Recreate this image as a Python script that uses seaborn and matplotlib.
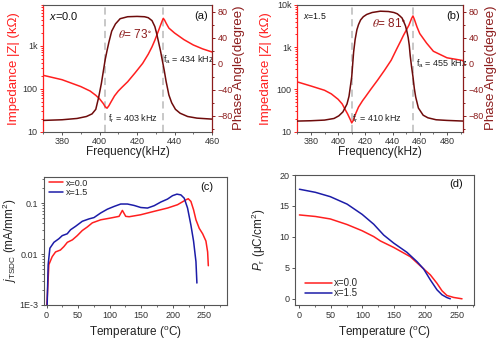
import matplotlib
matplotlib.use("Agg")
import matplotlib.pyplot as plt
from matplotlib import font_manager
from matplotlib.ticker import FixedLocator, MultipleLocator, LogLocator, NullFormatter, FuncFormatter
import seaborn as sns
import pandas as pd

# ---------------- data ----------------
# (a) x = 0.0 : impedance |Z| and phase angle vs frequency
imp_a_freq = [370, 380, 390, 395, 398, 400, 402, 403, 404, 405, 406, 408, 410, 412, 415, 419,
              423, 426, 428, 429.5, 431, 432.5, 433.5, 434, 434.7, 435.5, 437, 440, 445, 450,
              455, 460]
imp_a_z = [205, 162, 112, 88, 70, 58, 45, 38, 35, 40, 48, 68, 88, 108, 145, 235,
           390, 640, 950, 1350, 2000, 3000, 3900, 4400, 4000, 3400, 2600, 2000, 1400, 1050,
           850, 720]
phase_a_freq = [370, 380, 388, 393, 396, 398, 399.5, 401, 402, 403, 404, 405, 406.5, 408.5, 411,
                415, 420, 424, 426, 428, 429.5, 430.5, 431.5, 432.5, 433.5, 434.5, 435.5, 437,
                438.5, 440.5, 443, 447, 452, 460]
phase_a_deg = [-87, -86, -84, -81, -77, -70, -52, -30, -12, 6, 20, 33, 50, 61, 69,
               72, 72.5, 72, 70.5, 66, 57, 46, 33, 20, 5, -10, -27, -48,
               -60, -70, -76, -81, -83.5, -85]

# (b) x = 1.5
imp_b_freq = [370, 380, 390, 395, 400, 403, 405, 407, 409, 410, 411, 413, 415, 418, 420, 424,
              429, 434, 439, 443, 446, 448, 450, 452, 454, 455, 456, 458, 460, 465, 470, 480, 492]
imp_b_z = [150, 120, 95, 78, 58, 45, 34, 26, 19, 16, 18, 27, 38, 54, 66, 100,
           165, 280, 490, 900, 1400, 1900, 2500, 3300, 4800, 5500, 4600, 3000, 2100, 1250, 800, 560, 480]
phase_b_freq = [370, 380, 390, 397, 400.5, 403.5, 406.5, 408, 409, 410, 411.4, 412.5, 413.8, 415,
                416.5, 418.5, 421, 425, 431, 437, 441, 443.5, 445.5, 447, 448.5, 449.5, 450.5,
                451.5, 452.3, 453, 454, 455, 456, 457, 459, 462.5, 466, 472, 480, 492]
phase_b_deg = [-88, -87.5, -86.5, -84, -80, -74, -62, -50, -35, -20, 18, 37, 52, 60,
               67, 72, 75.5, 78.5, 80.5, 80, 78.5, 76.5, 73, 70, 63, 58, 50,
               40, 28, 12, -5, -20, -38, -51, -68, -79, -83, -86, -87, -88]

# (c) TSDC current density vs temperature
tsdc_t_x00 = [0.5, 1, 3.7, 9, 14.3, 22, 27.5, 33, 41, 48.7, 56.7, 64.6, 72.6, 85.8, 101.7, 115,
              120.2, 125.5, 130.8, 149, 170.6, 191.7, 207.6, 220.9, 224.6, 228.8, 233, 236.8,
              242, 247.4, 252.6, 255.3, 256.4]
tsdc_j_x00 = [0.001, 0.0013, 0.0062, 0.0089, 0.011, 0.012, 0.014, 0.017, 0.019, 0.023, 0.029,
              0.034, 0.041, 0.047, 0.051, 0.055, 0.072, 0.055, 0.054, 0.059, 0.069, 0.080,
              0.093, 0.116, 0.122, 0.108, 0.074, 0.047, 0.032, 0.025, 0.018, 0.011, 0.0059]
tsdc_t_x15 = [1, 2.6, 5.3, 11.7, 19.6, 24.9, 32.8, 38.1, 46, 56.7, 67.3, 75.2, 85.8, 96.4, 107,
              117.6, 128.2, 138.8, 149.4, 160, 170.6, 181.1, 191.7, 199.7, 206.6, 212.9, 218.2,
              223.5, 228.8, 233, 236.8, 238.3]
tsdc_j_x15 = [0.001, 0.0062, 0.013, 0.017, 0.020, 0.023, 0.025, 0.030, 0.035, 0.044, 0.049,
              0.052, 0.064, 0.076, 0.086, 0.096, 0.096, 0.090, 0.082, 0.080, 0.089, 0.105,
              0.120, 0.140, 0.150, 0.145, 0.125, 0.080, 0.037, 0.018, 0.0071, 0.0027]

# (d) remanent polarization vs temperature
pr_t_x00 = [0, 25.4, 49, 75.6, 99.4, 117.9, 128.4, 149.6, 176, 197, 207.7, 218.3, 226.2, 234,
            244.7, 258]
pr_x00 = [13.55, 13.3, 12.9, 12.0, 11.0, 10.05, 9.35, 8.3, 6.8, 4.84, 3.87, 2.5, 1.3, 0.54,
          0.22, 0.0]
pr_t_x15 = [0, 25.4, 49, 75.6, 99.4, 117.9, 133.7, 149.6, 170.7, 186.6, 197, 207.7, 218.3,
            226.2, 234, 239.4]
pr_x15 = [17.7, 17.2, 16.5, 15.3, 13.65, 12.05, 10.3, 9.0, 7.5, 6.0, 4.84, 3.06, 1.45, 0.65,
          0.2, 0.0]

series_labels = ["x=0.0", "x=1.5"]

# ---------------- style ----------------
RED = "#ff1f1f"
DARKRED = "#6e0b0b"
DARKRED_TXT = "#8c1c1c"
BLUE = "#1c1ca8"
FRAME = "#555555"

sns.set_style("ticks")
plt.rcParams["font.family"] = ["Liberation Sans", "DejaVu Sans"]
plt.rcParams["mathtext.fontset"] = "custom"
plt.rcParams["mathtext.rm"] = "Liberation Sans"
plt.rcParams["mathtext.it"] = "Liberation Sans:italic"
plt.rcParams["mathtext.bf"] = "Liberation Sans:bold"

available = {f.name for f in font_manager.fontManager.ttflist}
TICK_FAMILY = "Liberation Sans Narrow" if "Liberation Sans Narrow" in available else "Liberation Sans"
TICK_SIZE = 6.5

fig = plt.figure(figsize=(5, 3.4), dpi=100)
ax_a = fig.add_axes([43.3 / 500, 1 - 131.5 / 340, 168.7 / 500, 126.5 / 340])
ax_b = fig.add_axes([297.3 / 500, 1 - 131.5 / 340, 166 / 500, 126.5 / 340])
ax_c = fig.add_axes([44 / 500, 1 - 305 / 340, 183 / 500, 128.3 / 340])
ax_d = fig.add_axes([295 / 500, 1 - 305 / 340, 179 / 500, 130 / 340])


def style_ticklabels(ax, which="both", color="#333333"):
    labels = []
    if which in ("both", "x"):
        labels += ax.get_xticklabels()
    if which in ("both", "y"):
        labels += ax.get_yticklabels()
    for lab in labels:
        lab.set_fontfamily(TICK_FAMILY)
        lab.set_fontsize(TICK_SIZE)
        lab.set_color(color)


def impedance_panel(ax, f_z, z, f_ph, ph, fr, fa, xlim, xticks, ytop, comp, comp_size,
                    panel, theta, theta_xy, fa_xy, fr_xy, ylabel_x, y2label_x):
    ax.axvline(fr, color="#c4c4c4", ls=(0, (4, 2.5)), lw=1.3, zorder=0)
    ax.axvline(fa, color="#c4c4c4", ls=(0, (4, 2.5)), lw=1.3, zorder=0)
    sns.lineplot(x=f_z, y=z, ax=ax, color=RED, lw=1.1, sort=False, legend=False)
    ax.set_yscale("log")
    ax.set_xlim(*xlim)
    ax.set_ylim(10, ytop)
    ax.xaxis.set_major_locator(FixedLocator(xticks))
    ax.xaxis.set_minor_locator(MultipleLocator(10))
    yt = [v for v in [10, 100, 1000, 10000] if v <= ytop]
    ax.yaxis.set_major_locator(FixedLocator(yt))
    ax.yaxis.set_major_formatter(FuncFormatter(
        lambda v, p: "%dk" % round(v / 1000) if v >= 1000 else "%d" % round(v)))
    ax.yaxis.set_minor_locator(LogLocator(base=10, subs=range(2, 10)))
    ax.yaxis.set_minor_formatter(NullFormatter())
    ax.tick_params(axis="y", which="both", colors=RED, width=0.7, pad=1.5)
    ax.tick_params(axis="y", which="major", length=2.5)
    ax.tick_params(axis="y", which="minor", length=1.4)
    ax.tick_params(axis="x", which="major", length=2.5, width=0.7, color=FRAME, pad=1.2)
    ax.tick_params(axis="x", which="minor", length=1.4, width=0.6, color=FRAME)
    ax.set_xlabel("Frequency(kHz)", fontsize=8.5, color="#222222")
    ax.set_ylabel("Impedance |Z| (k\u03a9)", fontsize=9.5, color=RED)
    ax.xaxis.set_label_coords(0.5, -0.118)
    ax.yaxis.set_label_coords(ylabel_x, 0.5)
    style_ticklabels(ax, "x")
    style_ticklabels(ax, "y", color="#333333")
    for side in ("top", "bottom"):
        ax.spines[side].set_color(FRAME)
        ax.spines[side].set_linewidth(0.8)
    ax.spines["left"].set_color(RED)
    ax.spines["left"].set_linewidth(0.9)
    ax.spines["right"].set_visible(False)

    ax2 = ax.twinx()
    sns.lineplot(x=f_ph, y=ph, ax=ax2, color=DARKRED, lw=1.1, sort=False, legend=False)
    ax2.set_ylim(-104, 90)
    ax2.yaxis.set_major_locator(FixedLocator([-80, -40, 0, 40, 80]))
    ax2.yaxis.set_minor_locator(MultipleLocator(20))
    ax2.tick_params(axis="y", which="both", colors=DARKRED_TXT, width=0.7, pad=1.5)
    ax2.tick_params(axis="y", which="major", length=2.5)
    ax2.tick_params(axis="y", which="minor", length=1.4)
    ax2.set_ylabel("Phase Angle(degree)", fontsize=9.5, color=DARKRED_TXT)
    ax2.yaxis.set_label_coords(y2label_x, 0.5)
    style_ticklabels(ax2, "y", color=DARKRED_TXT)
    for side in ("top", "bottom", "left"):
        ax2.spines[side].set_visible(False)
    ax2.spines["right"].set_color(DARKRED_TXT)
    ax2.spines["right"].set_linewidth(0.9)

    ax.text(0.036, 0.91, "$x$=" + comp, transform=ax.transAxes, fontsize=comp_size,
            ha="left", va="center", color="#111111")
    ax.text(0.978, 0.915, panel, transform=ax.transAxes, fontsize=8, ha="right",
            va="center", color="#111111")
    ax.text(theta_xy[0], theta_xy[1], r"$\theta$= " + theta + r"$^{\circ}$",
            transform=ax.transAxes, fontsize=8.5, ha="center", va="center",
            color=DARKRED_TXT, math_fontfamily="stix")
    ax.text(fa_xy[0], fa_xy[1], r"f$_\mathregular{a}$ = %g kHz" % fa, transform=ax.transAxes,
            fontsize=6.5, ha="left", va="center", color="#222222")
    ax.text(fr_xy[0], fr_xy[1], r"f$_\mathregular{r}$ = %g kHz" % fr, transform=ax.transAxes,
            fontsize=6.5, ha="left", va="center", color="#222222")
    return ax2


impedance_panel(ax_a, imp_a_freq, imp_a_z, phase_a_freq, phase_a_deg, 403, 434,
                (370, 460), [380, 400, 420, 440, 460], 9000, "0.0", 8, "(a)", "73",
                (0.545, 0.77), (0.711, 0.565), (0.385, 0.104), -0.138, 1.122)
impedance_panel(ax_b, imp_b_freq, imp_b_z, phase_b_freq, phase_b_deg, 410, 455,
                (370, 492), [380, 400, 420, 440, 460, 480], 10000, "1.5", 6.3, "(b)", "81",
                (0.552, 0.85), (0.713, 0.537), (0.328, 0.10), -0.152, 1.128)


def temperature_axes(ax, xlabel_y, ylabel_x):
    ax.xaxis.set_major_locator(MultipleLocator(50))
    ax.xaxis.set_minor_locator(MultipleLocator(25))
    ax.tick_params(which="major", length=2.5, width=0.7, color=FRAME, pad=1.5)
    ax.tick_params(which="minor", length=1.4, width=0.6, color=FRAME)
    ax.set_xlabel("Temperature ($^\\mathregular{o}$C)", fontsize=8.5, color="#222222")
    ax.xaxis.set_label_coords(0.5, xlabel_y)
    ax.yaxis.set_label_coords(ylabel_x, 0.5)
    for sp in ax.spines.values():
        sp.set_color(FRAME)
        sp.set_linewidth(0.8)
    style_ticklabels(ax)


# (c)
tsdc = pd.DataFrame({
    "T": tsdc_t_x00 + tsdc_t_x15,
    "j": tsdc_j_x00 + tsdc_j_x15,
    "sample": [series_labels[0]] * len(tsdc_t_x00) + [series_labels[1]] * len(tsdc_t_x15),
})
sns.lineplot(data=tsdc, x="T", y="j", hue="sample", ax=ax_c, sort=False, lw=1.1,
             palette={series_labels[0]: RED, series_labels[1]: BLUE})
ax_c.set_yscale("log")
ax_c.set_xlim(-4, 286)
ax_c.set_ylim(1e-3, 0.33)
ax_c.yaxis.set_major_locator(FixedLocator([1e-3, 1e-2, 1e-1]))
ax_c.yaxis.set_major_formatter(FuncFormatter(
    lambda v, p: {0.001: "1E-3", 0.01: "0.01", 0.1: "0.1"}.get(round(v, 3), "")))
ax_c.yaxis.set_minor_locator(LogLocator(base=10, subs=range(2, 10)))
ax_c.yaxis.set_minor_formatter(NullFormatter())
ax_c.set_ylabel(r"$j$$_\mathregular{TSDC}$ (mA/mm$^\mathregular{2}$)", fontsize=8.5,
                color="#222222")
temperature_axes(ax_c, -0.15, -0.137)
sns.move_legend(ax_c, "upper left", bbox_to_anchor=(0.029, 0.985), frameon=False,
                title=None, fontsize=6.5, handlelength=1.55, handletextpad=0.25,
                labelspacing=0.05, borderaxespad=0, borderpad=0)
ax_c.text(0.923, 0.92, "(c)", transform=ax_c.transAxes, fontsize=8, ha="right",
          va="center", color="#111111")

# (d)
pr = pd.DataFrame({
    "T": pr_t_x00 + pr_t_x15,
    "P": pr_x00 + pr_x15,
    "sample": [series_labels[0]] * len(pr_t_x00) + [series_labels[1]] * len(pr_t_x15),
})
sns.lineplot(data=pr, x="T", y="P", hue="sample", ax=ax_d, sort=False, lw=1.1,
             palette={series_labels[0]: RED, series_labels[1]: BLUE})
ax_d.set_xlim(-7, 277)
ax_d.set_ylim(-1, 20)
ax_d.yaxis.set_major_locator(MultipleLocator(5))
ax_d.set_ylabel(r"$P$$_\mathregular{r}$ ($\mathregular{\mu}$C/cm$^\mathregular{2}$)",
                fontsize=8.5, color="#222222")
temperature_axes(ax_d, -0.148, -0.149)
sns.move_legend(ax_d, "lower left", bbox_to_anchor=(0.056, 0.05), frameon=False,
                title=None, fontsize=7, handlelength=2.8, handletextpad=0.2,
                labelspacing=0.0, borderaxespad=0, borderpad=0)
ax_d.text(0.94, 0.928, "(d)", transform=ax_d.transAxes, fontsize=8, ha="right",
          va="center", color="#111111")

fig.savefig("out.png", dpi=100)
